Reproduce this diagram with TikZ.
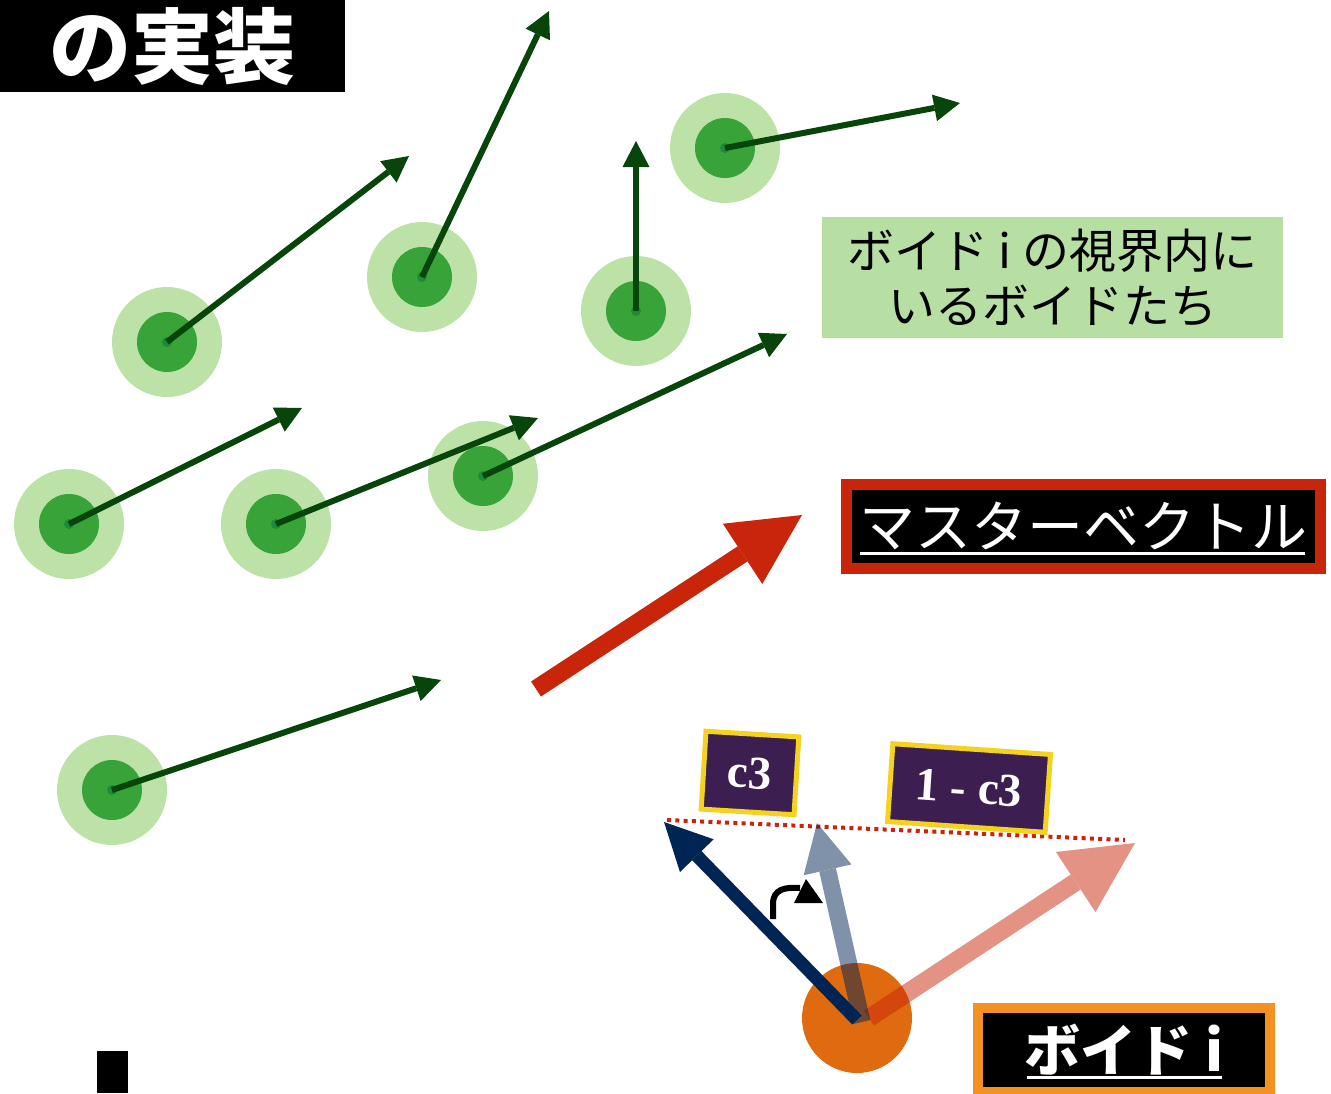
\documentclass[tikz,border=0pt]{standalone}
\usepackage{fontspec}
\setmainfont{Liberation Serif}
\newfontfamily\jp{Noto Sans CJK JP}
\usetikzlibrary{arrows.meta}
\definecolor{outerg}{HTML}{BCE2A8}
\definecolor{innerg}{HTML}{38A338}
\definecolor{dotg}{HTML}{1D8A3C}
\definecolor{arrg}{HTML}{07450A}
\definecolor{labelg}{HTML}{B7DEA3}
\definecolor{mred}{HTML}{C8250A}
\definecolor{navyb}{HTML}{002554}
\definecolor{boidor}{HTML}{E06A0F}
\definecolor{lblor}{HTML}{F39220}
\definecolor{vpurple}{HTML}{3C1F50}
\definecolor{vyellow}{HTML}{F5D21F}
\tikzset{
  halo/.style={circle, fill=outerg, minimum size=110pt, inner sep=0pt},
  core/.style={circle, fill=innerg, minimum size=60pt, inner sep=0pt},
  dotc/.style={circle, fill=dotg, minimum size=10pt, inner sep=0pt},
  velarrow/.style={draw=arrg, line width=6pt, -{Triangle[length=26pt,width=27pt,line width=0pt]}},
  master/.style={draw=mred, line width=18pt, -{Triangle[length=71pt,width=72pt,line width=0pt]}},
  weightbox/.style={fill=vpurple, draw=vyellow, line width=5pt, inner sep=0pt, text=white,
    font=\bfseries\fontsize{47}{50}\selectfont},
  jplabel/.style={inner sep=0pt, text=white},
}
\begin{document}
\begin{tikzpicture}[x=1pt,y=-1pt]
\useasboundingbox (0,0) rectangle (1331,1093);

% title
\node[fill=black, minimum width=345pt, minimum height=92pt, inner sep=0pt, anchor=north west,
      text=white, font=\jp\bfseries\fontsize{82}{90}\selectfont] (title) at (0,0) {の実装};

% boids
\foreach \n/\x/\y/\tx/\ty in {1/167/342/409/156, 2/422/277/549/11, 3/636/311/636/141,
   4/725/148/960/103, 5/69/524/302/408, 6/276/524/538/418, 7/483/476/787/334, 8/112/790/441/680}{
  \node[halo] (h\n) at (\x,\y) {};
  \node[core] (c\n) at (\x,\y) {};
  \node[dotc] (d\n) at (\x,\y) {};
  \coordinate (t\n) at (\tx,\ty);
}
\foreach \n in {1,...,8}{
  \draw[velarrow] (d\n.center) -- (t\n);
}

% label: boids in view
\node[fill=labelg, minimum width=461pt, minimum height=121pt, inner sep=0pt, align=center,
      font=\jp\fontsize{47}{55}\selectfont] (view) at (1052.5,277.5) {ボイド i の視界内に\\いるボイドたち};

% master vector
\coordinate (ms) at (536,689);
\coordinate (mt) at (802,515);
\draw[master] (ms) -- (mt);

\node[fill=black, draw=mred, line width=11pt, minimum width=474pt, minimum height=84pt,
      inner sep=0pt, text=white, font=\jp\fontsize{56}{60}\selectfont] (mlabel) at (1083,526) {マスターベクトル};
\draw[white, line width=3pt] (860,553) -- (1305,553);

% dotted line
\coordinate (dl1) at (667,820);
\coordinate (dl2) at (1125,840);
\draw[mred, line width=4pt, dash pattern=on 4pt off 4.3pt] (dl1) -- (dl2);

% weight boxes
\node[weightbox, minimum width=93pt, minimum height=78pt, rotate=-3.5] (wc) at (750,773) {c3};
\node[weightbox, minimum width=158pt, minimum height=78pt, rotate=-3.9] (wn) at (969,788) {1 - c3};

% boid i
\node[circle, fill=boidor, minimum size=110pt, inner sep=0pt] (bi) at (857,1018) {};
\coordinate (ss) at (869,1018);
\coordinate (st) at (1135,843);
\begin{scope}[transparency group, opacity=0.5]
  \draw[master] (ss) -- (st);
\end{scope}
\coordinate (gs) at (862,1022);
\coordinate (gt) at (817,823);
\begin{scope}[transparency group, opacity=0.5]
  \draw[draw=navyb, line width=17pt, -{Triangle[length=48pt,width=49pt,line width=0pt]}] (gs) -- (gt);
\end{scope}
\coordinate (ns) at (857,1020);
\coordinate (nt) at (664,822);
\draw[draw=navyb, line width=13pt, -{Triangle[length=47pt,width=47pt,line width=0pt]}] (ns) -- (nt);

% rotation hint
\draw[black, line width=6pt] (773,919) -- (773,904) .. controls (773,889) and (785,887) .. (800,888);
\fill[black] (794,903) -- (806,879) -- (823,903) -- cycle;

% boid i label
\node[fill=black, draw=lblor, line width=10pt, minimum width=292pt, minimum height=84pt,
      inner sep=0pt, text=white, font=\jp\bfseries\fontsize{56}{60}\selectfont] (blabel) at (1124,1050) {ボイド i};
\draw[white, line width=3pt] (1027,1077) -- (1222,1077);

% small black mark
\fill[black] (97,1051) rectangle (128,1093);
\end{tikzpicture}
\end{document}
